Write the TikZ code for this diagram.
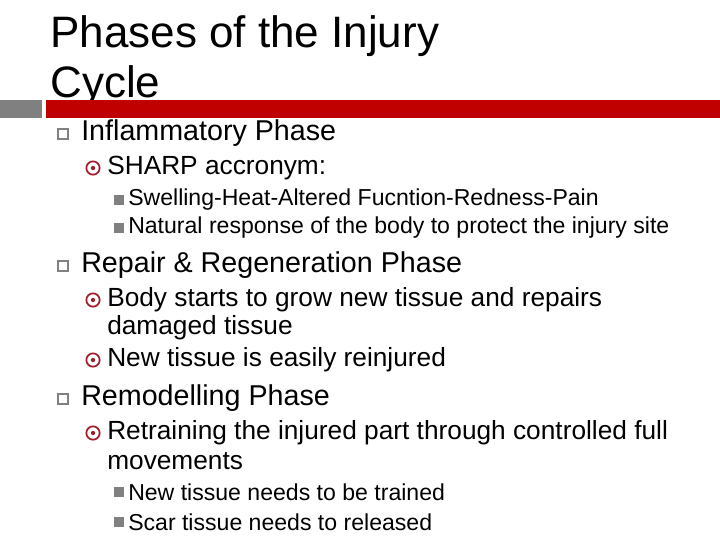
\documentclass[tikz,border=0pt]{standalone}
\usepackage{fontspec}
\setmainfont{Liberation Sans}
\usetikzlibrary{positioning}
\definecolor{barred}{RGB}{192,0,0}
\definecolor{bulred}{RGB}{160,30,40}
\definecolor{bargray}{RGB}{128,128,128}
\tikzset{
  title/.style={anchor=base west,inner sep=0pt,font=\fontsize{33}{33}\selectfont},
  lvlone/.style={anchor=west,inner sep=0pt,font=\fontsize{21.5}{21.5}\selectfont},
  lvltwo/.style={anchor=west,inner sep=0pt,font=\fontsize{19.7}{19.7}\selectfont},
  lvlthree/.style={anchor=west,inner sep=0pt,font=\fontsize{17.3}{17.3}\selectfont},
  boxbul/.style={draw=bargray,line width=1.3pt,minimum size=8pt,inner sep=0pt},
  dotbul/.style={circle,draw=bulred,line width=1.3pt,minimum size=10pt,inner sep=0pt},
  sqbul/.style={fill=bargray,minimum size=7pt,inner sep=0pt}
}
\begin{document}
\begin{tikzpicture}[x=0.75pt,y=-0.75pt]
\useasboundingbox (0,0) rectangle (720,540);
% title and bars
\node[title] (t1) at (50,47) {Phases of the Injury};
\node[title] (t2) at (50,97) {Cycle};
\fill[bargray] (0,100) rectangle (42,118);
\fill[barred] (46,100) rectangle (720,118);
% inflammatory phase
\node[boxbul] (b1) at (63,134) {};
\node[lvlone] (i1) at (81,133) {Inflammatory Phase};
\node[dotbul] (b2) at (93,168) {};
\fill[bulred] (b2) circle (1.6pt);
\node[lvltwo] (i2) at (107,168) {SHARP accronym:};
\node[sqbul] (b3) at (119,200) {};
\node[lvlthree] (i3) at (128,200) {Swelling-Heat-Altered Fucntion-Redness-Pain};
\node[sqbul] (b4) at (119,228) {};
\node[lvlthree] (i4) at (128,228) {Natural response of the body to protect the injury site};
% repair phase
\node[boxbul] (b5) at (63,266) {};
\node[lvlone] (r1) at (81,265) {Repair \& Regeneration Phase};
\node[dotbul] (b6) at (93,300) {};
\fill[bulred] (b6) circle (1.6pt);
\node[lvltwo] (r2) at (107,300) {Body starts to grow new tissue and repairs};
\node[lvltwo] (r3) at (107,328) {damaged tissue};
\node[dotbul] (b7) at (93,360) {};
\fill[bulred] (b7) circle (1.6pt);
\node[lvltwo] (r4) at (107,360) {New tissue is easily reinjured};
% remodelling phase
\node[boxbul] (b8) at (63,399) {};
\node[lvlone] (m1) at (81,398) {Remodelling Phase};
\node[dotbul] (b9) at (93,433) {};
\fill[bulred] (b9) circle (1.6pt);
\node[lvltwo] (m2) at (107,433) {Retraining the injured part through controlled full};
\node[lvltwo] (m3) at (107,461) {movements};
\node[sqbul] (b10) at (119,492) {};
\node[lvlthree] (m4) at (128,492) {New tissue needs to be trained};
\node[sqbul] (b11) at (119,522) {};
\node[lvlthree] (m5) at (128,522) {Scar tissue needs to released};
\end{tikzpicture}
\end{document}
